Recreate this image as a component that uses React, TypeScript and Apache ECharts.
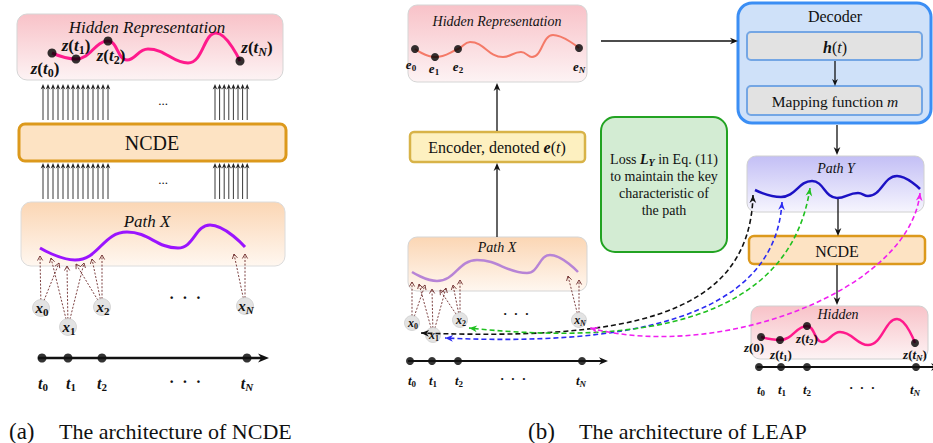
import React, { useEffect, useRef } from 'react';
import * as echarts from 'echarts';

const SERIF = '"Liberation Serif", "DejaVu Serif", serif';
type Pt = [number, number];

// ---------- data: curves (diagram coordinates) ----------
const hiddenCurveA: Pt[] = [[52, 53], [76, 59], [108, 41], [127, 60], [148, 49], [188, 63], [216, 33], [240, 61]];
const hiddenDotsA: Pt[] = [[52, 53], [76, 59], [108, 41], [240, 61]];
const hiddenLabelsA = ['z(t_0)', 'z(t_1)', 'z(t_2)', 'z(t_N)'];

const pathXCurveA: Pt[] = [[40, 248], [75, 260], [127, 232], [178, 248], [210, 225], [245, 247]];
const xNodesA: Pt[] = [[41, 308], [68, 327], [102, 307], [245, 306]];
const xLabels = ['x_0', 'x_1', 'x_2', 'x_N'];
const xTargetsA: Pt[][] = [
  [[40, 256], [59, 263]],
  [[51, 258], [67, 266], [84, 263]],
  [[76, 264], [92, 259], [102, 255]],
  [[234, 254], [245, 254]],
];
const timeDotsA = [42, 68, 102, 247];
const tLabels = ['t_0', 't_1', 't_2', '', 't_N'];

const hiddenCurveB: Pt[] = [[415, 49], [435, 57], [458, 49], [470, 42], [503, 57], [521, 52], [532, 57], [553, 35], [579, 48]];
const hiddenDotsB: Pt[] = [[415, 49], [435, 57], [458, 49], [579, 48]];
const eLabels = ['e_0', 'e_1', 'e_2', 'e_N'];

const pathXCurveB: Pt[] = [[412, 272], [437, 281], [477, 260], [527, 273], [550, 255], [578, 272]];
const xNodesB: Pt[] = [[412, 323], [433, 335], [460, 320], [579, 320]];
const xTargetsB: Pt[][] = [
  [[412, 282], [425, 285]],
  [[419, 284], [432, 289], [446, 288]],
  [[440, 290], [453, 285], [460, 280]],
  [[568, 276], [579, 280]],
];
const timeDotsB = [410, 432, 458, 582];

const pathYCurve: Pt[] = [[755, 190], [781, 197], [812, 181], [837, 198], [858, 193], [868, 196], [897, 176], [920, 189]];
const hiddenCurveC: Pt[] = [[761, 337], [780, 340], [807, 326], [822, 342], [840, 332], [868, 345], [897, 319], [915, 343]];
const hiddenDotsC: Pt[] = [[761, 337], [780, 340], [807, 326], [915, 343]];
const zLabelsC = ['z(0)', 'z(t_1)', 'z(t_2)', 'z(t_N)'];
const timeDotsC = [759, 781, 807, 916];

// loss curves: [start at Path Y, ctrl1, ctrl2, end at x node]
const lossCurves: { color: string; pts: Pt[] }[] = [
  { color: '#111111', pts: [[753, 195], [750, 320], [620, 340], [421, 333]] },
  { color: '#2b2bf2', pts: [[782, 202], [775, 322], [620, 346], [445, 338]] },
  { color: '#1fc01f', pts: [[810, 188], [790, 322], [640, 346], [469, 328]] },
  { color: '#f020f0', pts: [[920, 193], [910, 290], [720, 362], [590, 328]] },
];

const lossText = ['{r|Loss }{bi|L}{si|Y}{r| in Eq. (11)}', 'to maintain the key', 'characteristic of', 'the path'];

// ---------- helpers ----------
function parseMath(s: string): string {
  let out = '';
  for (let i = 0; i < s.length; i++) {
    const c = s[i];
    if (c === '_') {
      const n = s[i + 1];
      out += /[0-9]/.test(n) ? `{sd|${n}}` : `{si|${n}}`;
      i++;
    } else if (/[A-Za-z]/.test(c)) out += `{bi|${c}}`;
    else out += `{b|${c}}`;
  }
  return out;
}

function mathRich(size: number) {
  const sub = Math.round(size * 0.7);
  const pad = Math.round(size * 0.5);
  return {
    bi: { fontFamily: SERIF, fontStyle: 'italic', fontWeight: 'bold', fontSize: size, fill: '#111' },
    b: { fontFamily: SERIF, fontWeight: 'bold', fontSize: size, fill: '#111' },
    sd: { fontFamily: SERIF, fontWeight: 'bold', fontSize: sub, fill: '#111', padding: [pad, 0, 0, 0] },
    si: { fontFamily: SERIF, fontStyle: 'italic', fontWeight: 'bold', fontSize: sub, fill: '#111', padding: [pad, 0, 0, 0] },
    r: { fontFamily: SERIF, fontSize: size, fill: '#111' },
    it: { fontFamily: SERIF, fontStyle: 'italic', fontSize: size, fill: '#111' },
  };
}

function mathText(x: number, y: number, label: string, size: number, align = 'center'): any {
  return {
    type: 'text', x, y, z: 12,
    style: { text: parseMath(label), rich: mathRich(size), align, verticalAlign: 'middle' },
  };
}

function txt(x: number, y: number, text: string, style: any = {}): any {
  return {
    type: 'text', x, y, z: 12,
    style: { text, fontFamily: SERIF, fontSize: 14, fill: '#111', align: 'center', verticalAlign: 'middle', ...style },
  };
}

function grad(c1: string, c2: string) {
  return new echarts.graphic.LinearGradient(0, 0, 0, 1, [
    { offset: 0, color: c1 },
    { offset: 1, color: c2 },
  ]);
}

function box(x1: number, y1: number, x2: number, y2: number, r: number, fill: any, stroke: string, lw: number): any {
  return {
    type: 'rect', z: 0,
    shape: { x: x1, y: y1, width: x2 - x1, height: y2 - y1, r },
    style: { fill, stroke, lineWidth: lw },
  };
}

function headPoly(x: number, y: number, a: number, s: number, color: string): any {
  const c = Math.cos(a), si = Math.sin(a);
  const bx = x - s * c, by = y - s * si;
  const w = s * 0.42;
  return {
    type: 'polygon', z: 8,
    shape: { points: [[x, y], [bx - w * si, by + w * c], [x - s * 0.7 * c, y - s * 0.7 * si], [bx + w * si, by - w * c]] },
    style: { fill: color },
  };
}

function arrow(x1: number, y1: number, x2: number, y2: number, opt: any = {}): any[] {
  const color = opt.color || '#111';
  const width = opt.width || 1.3;
  const head = opt.head || 7;
  const a = Math.atan2(y2 - y1, x2 - x1);
  const lx = x2 - Math.cos(a) * head * 0.6, ly = y2 - Math.sin(a) * head * 0.6;
  return [
    { type: 'line', z: 8, shape: { x1, y1, x2: lx, y2: ly }, style: { stroke: color, lineWidth: width } },
    headPoly(x2, y2, a, head, color),
  ];
}

function dashedOpenArrow(x1: number, y1: number, x2: number, y2: number, r: number): any[] {
  const color = '#6e2c2c';
  const a = Math.atan2(y2 - y1, x2 - x1);
  const c = Math.cos(a), si = Math.sin(a);
  const sx = x1 + c * r, sy = y1 + si * r;
  const s = 4.5, w = 2.6;
  const bx = x2 - s * c, by = y2 - s * si;
  return [
    { type: 'line', z: 5, shape: { x1: sx, y1: sy, x2, y2 }, style: { stroke: color, lineWidth: 0.9, lineDash: [2, 1.6] } },
    {
      type: 'polyline', z: 5,
      shape: { points: [[bx - w * si, by + w * c], [x2, y2], [bx + w * si, by - w * c]] },
      style: { stroke: color, lineWidth: 0.9, fill: null },
    },
  ];
}

function lineSeries(data: Pt[], color: string, width: number): any {
  return { type: 'line', data, smooth: 0.45, symbol: 'none', lineStyle: { color, width }, z: 3, silent: true };
}

// ---------- component ----------
export default function App() {
  const ref = useRef<HTMLDivElement>(null);

  useEffect(() => {
    if (!ref.current) return;
    const chart = echarts.init(ref.current, undefined, { renderer: 'svg' });
    const g: any[] = [];

    const pinkG = () => grad('#f8c2c8', '#fdf3f4');
    const peachG = () => grad('#fbd6b4', '#fff7f0');

    // ===== (a) =====
    g.push(box(17, 14, 283, 80, 10, pinkG(), '#d5d5d5', 1));
    g.push(txt(147, 27, 'Hidden Representation', { fontSize: 17, fontStyle: 'italic' }));
    const labPosA: Pt[] = [[45, 68], [76, 45], [111, 55], [257, 47]];
    hiddenLabelsA.forEach((l, i) => g.push(mathText(labPosA[i][0], labPosA[i][1], l, 17)));

    // arrow bundles
    const bundleXs: number[] = [];
    for (let i = 0; i < 14; i++) bundleXs.push(43 + i * 5);
    for (let i = 0; i < 8; i++) bundleXs.push(215 + i * 4.6);
    bundleXs.forEach((x) => {
      g.push(...arrow(x, 120, x, 84, { width: 0.9, head: 5.5, color: '#222' }));
      g.push(...arrow(x, 199, x, 163, { width: 0.9, head: 5.5, color: '#222' }));
    });
    g.push(txt(163, 100, '...', { fontSize: 13 }));
    g.push(txt(163, 179, '...', { fontSize: 13 }));

    g.push(box(19, 124, 286, 161, 6, '#fde3c3', '#dc991c', 3));
    g.push(txt(152, 143, 'NCDE', { fontSize: 20 }));

    g.push(box(21, 202, 285, 266, 10, peachG(), '#dcdcdc', 1));
    g.push(txt(147, 221, 'Path X', { fontSize: 17, fontStyle: 'italic' }));

    xTargetsA.forEach((ts, i) => ts.forEach((t) => g.push(...dashedOpenArrow(xNodesA[i][0], xNodesA[i][1], t[0], t[1], 8))));
    xNodesA.forEach((p, i) => g.push(mathText(p[0] + 1, p[1], xLabels[i], 15)));
    g.push(txt(185, 297, '·  ·  ·', { fontSize: 16, fontWeight: 'bold' }));

    g.push(...arrow(38, 358, 269, 358, { width: 2.6, head: 11 }));
    const tPosA = [43, 71, 102, 185, 247];
    tLabels.forEach((l, i) => {
      if (l) g.push(mathText(tPosA[i], 383, l, 16));
      else g.push(txt(tPosA[i], 381, '·  ·  ·', { fontSize: 16, fontWeight: 'bold' }));
    });

    g.push(txt(9, 431, '(a)', { fontSize: 23, align: 'left' }));
    g.push(txt(59, 431, 'The architecture of NCDE', { fontSize: 22, align: 'left' }));

    // ===== (b) =====
    g.push(box(408, 5, 587, 82, 9, pinkG(), '#d5d5d5', 1));
    g.push(txt(497, 21, 'Hidden Representation', { fontSize: 14, fontStyle: 'italic' }));
    const ePos: Pt[] = [[411, 64], [434, 68], [458, 66], [579, 66]];
    eLabels.forEach((l, i) => g.push(mathText(ePos[i][0], ePos[i][1], l, 13)));

    g.push(...arrow(601, 41, 738, 41, { width: 1.3, head: 8 }));
    g.push(...arrow(497, 131, 497, 83, { width: 1.3, head: 8 }));
    g.push(box(410, 132, 585, 162, 4, '#fdf0c0', '#d8b348', 2.5));
    g.push({
      type: 'text', x: 497, y: 147, z: 12,
      style: { text: '{r|Encoder, denoted }{bi|e}{r|(}{it|t}{r|)}', rich: mathRich(16), align: 'center', verticalAlign: 'middle' },
    });
    g.push(...arrow(497, 237, 497, 163, { width: 1.3, head: 8 }));

    // green loss box
    g.push(box(601, 117, 727, 252, 14, '#d3ecd3', '#22a322', 2));
    lossText.forEach((l, i) => {
      g.push({
        type: 'text', x: 664, y: 159 + i * 17.3, z: 12,
        style: { text: l.startsWith('{') ? l : `{r|${l}}`, rich: mathRich(14), align: 'center', verticalAlign: 'middle' },
      });
    });

    // decoder
    g.push(box(738, 3, 931, 123, 14, '#cfe1f9', '#3b8ef4', 3));
    g.push(txt(835, 16, 'Decoder', { fontSize: 16 }));
    g.push(box(747, 32, 922, 60, 4, '#e2e2e2', '#74a6e4', 2));
    g.push({
      type: 'text', x: 835, y: 47, z: 12,
      style: { text: '{bi|h}{r|(}{it|t}{r|)}', rich: mathRich(16), align: 'center', verticalAlign: 'middle' },
    });
    g.push(...arrow(835, 61, 835, 86, { width: 1.3, head: 7 }));
    g.push(box(747, 86, 922, 115, 4, '#e2e2e2', '#74a6e4', 2));
    g.push({
      type: 'text', x: 835, y: 101, z: 12,
      style: { text: '{r|Mapping function }{it|m}', rich: mathRich(15.5), align: 'center', verticalAlign: 'middle' },
    });
    g.push(...arrow(837, 125, 837, 155, { width: 1.3, head: 8 }));

    // path Y
    g.push(box(747, 156, 924, 212, 9, grad('#c3bff5', '#f6f5fe'), '#d0d0d0', 1));
    g.push(txt(836, 168, 'Path Y', { fontSize: 14, fontStyle: 'italic' }));
    g.push(...arrow(838, 199, 838, 236, { width: 1.3, head: 8 }));

    g.push(box(749, 236, 925, 264, 5, '#fde3c3', '#dc991c', 2.5));
    g.push(txt(837, 251, 'NCDE', { fontSize: 16 }));
    g.push(...arrow(837, 265, 837, 305, { width: 1.3, head: 8 }));

    g.push(box(751, 306, 928, 359, 9, pinkG(), '#d0d0d0', 1));
    g.push(txt(838, 314, 'Hidden', { fontSize: 14, fontStyle: 'italic' }));
    const zPosC: Pt[] = [[754, 347], [781, 354], [807, 338], [915, 354]];
    zLabelsC.forEach((l, i) => g.push(mathText(zPosC[i][0], zPosC[i][1], l, 13)));

    g.push(...arrow(757, 367, 940, 367, { width: 1.8, head: 9 }));
    const tPosC = [761, 782, 807, 862, 915];
    tLabels.forEach((l, i) => {
      if (l) g.push(mathText(tPosC[i], 389, l, 13));
      else g.push(txt(tPosC[i], 387, '·  ·  ·', { fontSize: 13, fontWeight: 'bold' }));
    });

    // path X (b)
    g.push(box(408, 237, 587, 291, 9, peachG(), '#d5d5d5', 1));
    g.push(txt(497, 247, 'Path X', { fontSize: 14, fontStyle: 'italic' }));
    xTargetsB.forEach((ts, i) => ts.forEach((t) => g.push(...dashedOpenArrow(xNodesB[i][0], xNodesB[i][1], t[0], t[1], 7))));
    xNodesB.forEach((p, i) => g.push(mathText(p[0] + 1, p[1], xLabels[i], 12)));
    g.push(txt(516, 313, '·  ·  ·', { fontSize: 13, fontWeight: 'bold' }));

    g.push(...arrow(408, 361, 608, 361, { width: 1.8, head: 9 }));
    const tPosB = [412, 433, 459, 513, 581];
    tLabels.forEach((l, i) => {
      if (l) g.push(mathText(tPosB[i], 380, l, 13));
      else g.push(txt(tPosB[i], 378, '·  ·  ·', { fontSize: 13, fontWeight: 'bold' }));
    });

    // loss curves
    lossCurves.forEach(({ color, pts }) => {
      const [p0, p1, p2, p3] = pts;
      g.push({
        type: 'bezierCurve', z: 7,
        shape: { x1: p0[0], y1: p0[1], cpx1: p1[0], cpy1: p1[1], cpx2: p2[0], cpy2: p2[1], x2: p3[0], y2: p3[1] },
        style: { stroke: color, lineWidth: 1.6, lineDash: [5, 3], fill: null },
      });
      g.push(headPoly(p0[0], p0[1], Math.atan2(p0[1] - p1[1], p0[0] - p1[0]), 8, color));
      g.push(headPoly(p3[0], p3[1], Math.atan2(p3[1] - p2[1], p3[0] - p2[0]), 8, color));
    });

    g.push(txt(528, 431, '(b)', { fontSize: 23, align: 'left' }));
    g.push(txt(579, 431, 'The architecture of LEAP', { fontSize: 22, align: 'left' }));

    const dotItems = (pts: Pt[], size: number) => pts.map((p) => ({ value: p, symbolSize: size }));
    const timeItems = (xs: number[], y: number, size: number) => xs.map((x) => ({ value: [x, y], symbolSize: size }));

    chart.setOption({
      animation: false,
      grid: { left: 0, right: 0, top: 0, bottom: 0, containLabel: false },
      xAxis: { type: 'value', min: 0, max: 933, show: false },
      yAxis: { type: 'value', min: 0, max: 443, inverse: true, show: false },
      series: [
        lineSeries(hiddenCurveA, '#ff1a8c', 3),
        lineSeries(pathXCurveA, '#9a14ff', 3),
        lineSeries(hiddenCurveB, '#f47a68', 2),
        lineSeries(pathXCurveB, '#b784d6', 2.5),
        lineSeries(pathYCurve, '#1c12c4', 2.5),
        lineSeries(hiddenCurveC, '#ff1a8c', 2.5),
        {
          type: 'scatter', z: 4, silent: true,
          itemStyle: { color: '#000' },
          data: [
            ...dotItems(hiddenDotsA, 9),
            ...dotItems(hiddenDotsB, 8),
            ...dotItems(hiddenDotsC, 8),
            ...timeItems(timeDotsA, 358, 9),
            ...timeItems(timeDotsB, 361, 8),
            ...timeItems(timeDotsC, 367, 8),
          ],
        },
        {
          type: 'scatter', z: 6, silent: true,
          itemStyle: { color: '#dcdcdc', borderColor: '#c6c6c6', borderWidth: 0.8 },
          data: [...dotItems(xNodesA, 17), ...dotItems(xNodesB, 15)],
        },
      ],
      graphic: { elements: g },
    });
    return () => chart.dispose();
  }, []);

  return <div ref={ref} style={{ position: 'fixed', left: 0, top: 0, width: 933, height: 443, background: '#fff' }} />;
}
